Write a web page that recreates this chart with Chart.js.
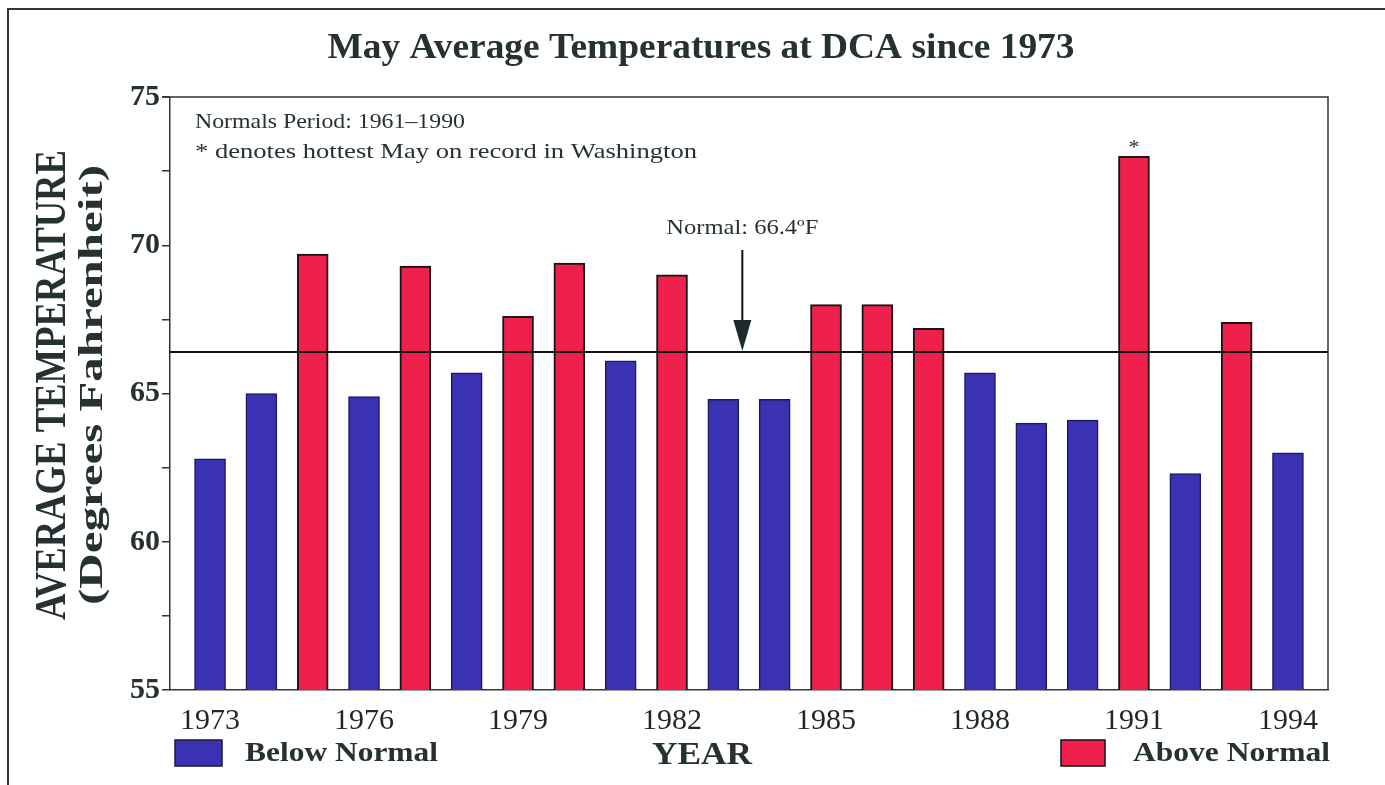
<!DOCTYPE html>
<html>
<head>
<meta charset="utf-8">
<script src="https://cdn.jsdelivr.net/npm/chart.js@4.4.1/dist/chart.umd.min.js"></script>
<style>
    html, body { margin: 0; padding: 0; background: #fff; }
    canvas { display: block; }
</style>
</head>
<body>
<canvas id="mayChart" width="1385" height="785"></canvas>
<script>
// 資料
const years = [1973, 1974, 1975, 1976, 1977, 1978, 1979, 1980, 1981, 1982, 1983,
               1984, 1985, 1986, 1987, 1988, 1989, 1990, 1991, 1992, 1993, 1994];
const temps = [62.8, 65.0, 69.7, 64.9, 69.3, 65.7, 67.6, 69.4, 66.1, 69.0, 64.8,
               64.8, 68.0, 68.0, 67.2, 65.7, 64.0, 64.1, 73.0, 62.3, 67.4, 63.0];
const tickYears = [1973, 1976, 1979, 1982, 1985, 1988, 1991, 1994];
const normalTemp = 66.4;
const hottestYear = 1991;

const belowData = [];
const aboveData = [];
years.forEach((y, i) => {
    if (temps[i] < normalTemp) belowData.push({ x: y, y: temps[i] });
    else aboveData.push({ x: y, y: temps[i] });
});

const SERIF = "'Liberation Serif', 'Times New Roman', Times, serif";
const INK = "#263232";
const BLUE = "#3a31b3";
const RED = "#f0204c";

// 依寬度縮放文字
function fitText(ctx, text, x, y, width, font, align) {
    ctx.save();
    ctx.font = font;
    const w = ctx.measureText(text).width;
    ctx.translate(x, y);
    ctx.scale(width / w, 1);
    ctx.textAlign = align || "center";
    ctx.textBaseline = "middle";
    ctx.fillText(text, 0, 0);
    ctx.restore();
}

const decorPlugin = {
    id: "decor",
    afterDraw(chart) {
        const ctx = chart.ctx;
        const area = chart.chartArea;
        const xs = chart.scales.x;
        const ys = chart.scales.y;
        ctx.save();
        ctx.fillStyle = INK;
        ctx.strokeStyle = "#2e3636";

        // 外框
        ctx.lineWidth = 2;
        ctx.beginPath();
        ctx.moveTo(8, 785);
        ctx.lineTo(8, 9);
        ctx.lineTo(1385, 9);
        ctx.stroke();

        // 圖框上緣與右緣
        ctx.lineWidth = 1.5;
        ctx.beginPath();
        ctx.moveTo(area.left - 8, area.top);
        ctx.lineTo(area.right, area.top);
        ctx.lineTo(area.right, area.bottom);
        ctx.stroke();

        // 正常值線
        const ny = ys.getPixelForValue(normalTemp);
        ctx.strokeStyle = "#111";
        ctx.lineWidth = 2;
        ctx.beginPath();
        ctx.moveTo(area.left, ny);
        ctx.lineTo(area.right, ny);
        ctx.stroke();

        // 箭頭
        const ax = xs.getPixelForValue(1983.37);
        ctx.lineWidth = 2;
        ctx.beginPath();
        ctx.moveTo(ax, 250);
        ctx.lineTo(ax, ny - 6);
        ctx.stroke();
        ctx.fillStyle = "#1d2b2b";
        ctx.beginPath();
        ctx.moveTo(ax - 9, ny - 32);
        ctx.lineTo(ax + 9, ny - 32);
        ctx.lineTo(ax, ny - 1);
        ctx.closePath();
        ctx.fill();

        ctx.fillStyle = INK;
        // 標題
        fitText(ctx, "May Average Temperatures at DCA since 1973", 701, 49, 747,
            "bold 36px " + SERIF);

        // 註解
        fitText(ctx, "Normals Period: 1961\u20131990", 195, 122, 270, "21px " + SERIF, "left");
        fitText(ctx, "* denotes hottest May on record in Washington", 195, 152, 502,
            "21px " + SERIF, "left");
        fitText(ctx, "Normal: 66.4\u00baF", ax, 228, 152, "22px " + SERIF);

        // 最熱星號
        const hx = xs.getPixelForValue(hottestYear);
        const hy = ys.getPixelForValue(temps[years.indexOf(hottestYear)]);
        ctx.font = "22px " + SERIF;
        ctx.textAlign = "center";
        ctx.textBaseline = "middle";
        ctx.fillText("*", hx, hy - 8);

        // Y 軸標題
        ctx.save();
        ctx.translate(54, 385);
        ctx.rotate(-Math.PI / 2);
        fitText(ctx, "AVERAGE TEMPERATURE", 0, 0, 470, "bold 44px " + SERIF);
        ctx.restore();
        ctx.save();
        ctx.translate(93, 385);
        ctx.rotate(-Math.PI / 2);
        fitText(ctx, "(Degrees Fahrenheit)", 0, 0, 440, "bold 34px " + SERIF);
        ctx.restore();

        // X 軸標題
        fitText(ctx, "YEAR", 702, 756, 100, "bold 32px " + SERIF);

        // 圖例
        ctx.lineWidth = 1.5;
        ctx.strokeStyle = "#1a1a40";
        ctx.fillStyle = BLUE;
        ctx.fillRect(175, 740, 47, 26);
        ctx.strokeRect(175, 740, 47, 26);
        ctx.strokeStyle = "#111";
        ctx.fillStyle = RED;
        ctx.fillRect(1061, 740, 44, 26);
        ctx.strokeRect(1061, 740, 44, 26);
        ctx.fillStyle = INK;
        fitText(ctx, "Below Normal", 245, 754, 193, "bold 28px " + SERIF, "left");
        fitText(ctx, "Above Normal", 1133, 754, 197, "bold 28px " + SERIF, "left");

        ctx.restore();
    }
};

function drawChart() {
    new Chart(document.getElementById("mayChart").getContext("2d"), {
        type: "bar",
        data: {
            datasets: [
                {
                    label: "Below Normal",
                    data: belowData,
                    backgroundColor: BLUE,
                    borderColor: "#1c1a5e",
                    borderWidth: 1.5,
                    borderSkipped: false
                },
                {
                    label: "Above Normal",
                    data: aboveData,
                    backgroundColor: RED,
                    borderColor: "#151515",
                    borderWidth: 2,
                    borderSkipped: false
                }
            ]
        },
        options: {
            responsive: false,
            animation: false,
            devicePixelRatio: 1,
            layout: { padding: { top: 97, right: 57, left: 0, bottom: 0 } },
            datasets: { bar: { grouped: false, barThickness: 31 } },
            scales: {
                x: {
                    type: "linear",
                    offset: false,
                    min: 1972.22,
                    max: 1994.78,
                    afterBuildTicks: (scale) => {
                        scale.ticks = tickYears.map(v => ({ value: v }));
                    },
                    afterFit: (scale) => { scale.height = 95; },
                    grid: { display: false, drawTicks: false },
                    border: { display: true, color: "#2e3636", width: 1.5 },
                    ticks: {
                        padding: 13,
                        color: "#1e2828",
                        font: { family: SERIF, size: 30 },
                        callback: (v) => String(v),
                        autoSkip: false,
                        maxRotation: 0
                    }
                },
                y: {
                    min: 55,
                    max: 75,
                    afterFit: (scale) => { scale.width = 170; },
                    grid: { drawOnChartArea: false, tickLength: 8, color: "#2e3636", lineWidth: 1.5 },
                    border: { display: true, color: "#2e3636", width: 1.5 },
                    ticks: {
                        stepSize: 2.5,
                        padding: 2,
                        color: INK,
                        font: { family: SERIF, size: 30, weight: "bold" },
                        callback: (v) => (v % 5 === 0 ? v : "")
                    }
                }
            },
            plugins: {
                legend: { display: false },
                tooltip: { enabled: false }
            }
        },
        plugins: [decorPlugin]
    });
}

Promise.all([
    document.fonts.load("20px 'Liberation Serif'"),
    document.fonts.load("bold 20px 'Liberation Serif'")
]).then(drawChart, drawChart);
</script>
</body>
</html>
